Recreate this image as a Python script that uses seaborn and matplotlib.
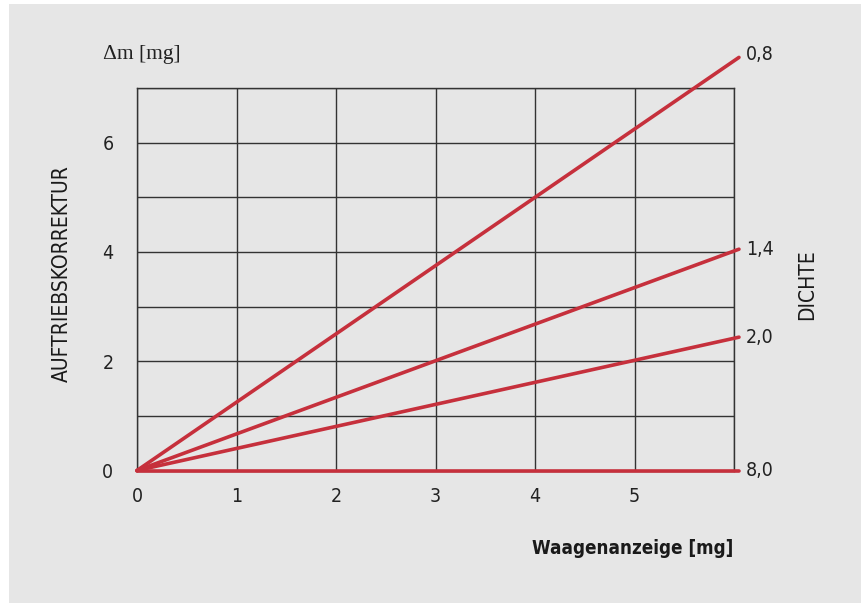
import numpy as np
import pandas as pd
import matplotlib
matplotlib.use("Agg")
import matplotlib.pyplot as plt
from matplotlib.patches import Rectangle
import seaborn as sns

# ── Daten ─────────────────────────────────────────────────────────────────────
DICHTE   = ["0,8", "1,4", "2,0", "8,0"]
X_WERTE  = [0.0, 6.05]                  # Waagenanzeige [mg], Anfang / Ende der Geraden
DM_ENDE  = [7.56, 4.05, 2.44, 0.0]      # Δm am Ende der Geraden
X_TICKS  = [0, 1, 2, 3, 4, 5, 6]
X_LABELS = ["0", "1", "2", "3", "4", "5", ""]
Y_TICKS  = [0, 1, 2, 3, 4, 5, 6, 7]
Y_LABELS = ["0", "", "2", "", "4", "", "6", ""]

ROT    = "#c6303c"
GRAU   = "#e6e6e6"
GITTER = "#333333"

rows = []
for d, dm in zip(DICHTE, DM_ENDE):
    rows.append({"dichte": d, "x": X_WERTE[0], "dm": 0.0})
    rows.append({"dichte": d, "x": X_WERTE[1], "dm": dm})
df = pd.DataFrame(rows)

# ── Stil ──────────────────────────────────────────────────────────────────────
sns.set_style("white", {"axes.facecolor": GRAU})
plt.rcParams["font.family"] = ["DejaVu Sans"]
plt.rcParams["font.stretch"] = "condensed"

fig = plt.figure(figsize=(8.64, 6.03), dpi=100, facecolor="white")
hg = Rectangle((9 / 864, 0), 852 / 864, 599 / 603, transform=fig.transFigure,
               facecolor=GRAU, edgecolor="none", zorder=-10)
fig.add_artist(hg)
ax = fig.add_axes([137 / 864, 1 - 470.5 / 603, 597 / 864, 382.5 / 603])
ax.set_zorder(5)

sns.lineplot(data=df, x="x", y="dm", hue="dichte", palette=[ROT] * 4,
             legend=False, linewidth=2.6, ax=ax, clip_on=False, zorder=5)

ax.set_xlim(0, 6)
ax.set_ylim(0, 7)
ax.set_xticks(X_TICKS)
ax.set_xticklabels(X_LABELS, fontsize=14, color="#222222")
ax.set_yticks(Y_TICKS)
ax.set_yticklabels(Y_LABELS, fontsize=14, color="#222222")
ax.tick_params(axis="x", length=8, width=1.0, color=GITTER, pad=4)
ax.tick_params(axis="y", length=12, width=1.0, color=GITTER, pad=5)
ax.grid(True, color=GITTER, linewidth=1.0)
for s in ax.spines.values():
    s.set_color(GITTER)
    s.set_linewidth(1.0)
ax.set_xlabel("")
ax.set_ylabel("")

# Beschriftung der Geraden (Dichte)
for d, dm in zip(DICHTE, DM_ENDE):
    off = 0.05 if dm > 7 else 0.0
    ax.text(X_WERTE[1] + 0.07, dm + off, d, fontsize=14, color="#222222",
            va="center", ha="left", clip_on=False)

fig.text(62 / 864, 1 - 274 / 603, "AUFTRIEBSKORREKTUR", rotation=90,
         fontsize=15, color="#1a1a1a", ha="center", va="center")
fig.text(807 / 864, 1 - 285 / 603, "DICHTE", rotation=90,
         fontsize=15, color="#1a1a1a", ha="center", va="center")
fig.text(733 / 864, 1 - 548 / 603, "Waagenanzeige [mg]", fontsize=13.5,
         fontweight="bold", color="#1a1a1a", ha="right", va="center")
fig.text(103 / 864, 1 - 55 / 603, "Δm [mg]", fontsize=15.5, color="#222222",
         ha="left", va="center", family=["Liberation Serif", "DejaVu Serif"])

fig.savefig("out.png", dpi=100, facecolor="white")
